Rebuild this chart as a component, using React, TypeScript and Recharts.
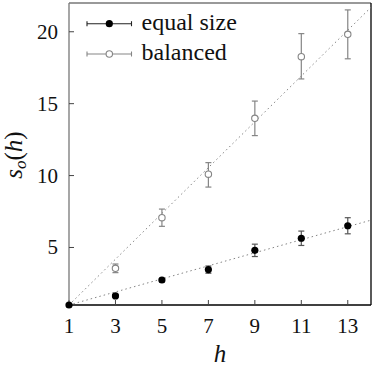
import React from 'react';
import { ComposedChart, Scatter, XAxis, YAxis, ErrorBar } from 'recharts';

// ---- data ----
const equalH = [1, 3, 5, 7, 9, 11, 13];
const equalSize = [1, 1.63, 2.74, 3.46, 4.8, 5.64, 6.51];
const equalErr = [0, 0.1, 0.12, 0.25, 0.43, 0.5, 0.56];

const balancedH = [3, 5, 7, 9, 11, 13];
const balanced = [3.55, 7.07, 10.1, 13.98, 18.27, 19.82];
const balancedErr: [number, number][] = [
  [0.3, 0.3],
  [0.6, 0.6],
  [0.9, 0.8],
  [1.2, 1.2],
  [1.55, 1.6],
  [1.7, 1.7],
];

const fitH = [1, 14];
const fitEqual = [1, 6.9];
const fitBalanced = [1, 21.7];

const xTicks = [1, 3, 5, 7, 9, 11, 13];
const yTicks = [5, 10, 15, 20];
const seriesNames = ['equal size', 'balanced'];

// ---- derived tables ----
const equalData = equalH.map((x, i) => ({ x, y: equalSize[i], err: equalErr[i] }));
const balancedData = balancedH.map((x, i) => ({ x, y: balanced[i], err: balancedErr[i] }));
const fitEqualData = fitH.map((x, i) => ({ x, y: fitEqual[i] }));
const fitBalancedData = fitH.map((x, i) => ({ x, y: fitBalanced[i] }));

const FONT = 'serif';
const GRAY = '#858585';
const DARK = '#111';

const FilledDot = (p: any) => <circle cx={p.cx} cy={p.cy} r={3.6} fill="#000" />;
const OpenDot = (p: any) => (
  <circle cx={p.cx} cy={p.cy} r={3.2} fill="#fff" stroke={GRAY} strokeWidth={1.1} />
);
const NoDot = () => <g />;
const EmptyTick = () => <g />;

const XTick = (p: any) => (
  <text x={p.x} y={p.y} dy={14} textAnchor="middle" fill={DARK} style={{ fontFamily: FONT, fontSize: 21 }}>
    {p.payload.value}
  </text>
);
const YTick = (p: any) => (
  <text x={p.x} y={p.y} dy={7} textAnchor="end" fill={DARK} style={{ fontFamily: FONT, fontSize: 21 }}>
    {p.payload.value}
  </text>
);

export default function App() {
  const legendRows = [
    { name: seriesNames[0], y: 23.7, color: '#222', filled: true },
    { name: seriesNames[1], y: 54, color: GRAY, filled: false },
  ];
  return (
    <div style={{ position: 'absolute', left: 0, top: 0, width: 374, height: 368, background: '#fff' }}>
      <ComposedChart width={374} height={368} margin={{ top: 0, right: 0, bottom: 0, left: 0 }}>
        <XAxis
          xAxisId="b"
          orientation="bottom"
          type="number"
          dataKey="x"
          domain={[1, 14]}
          ticks={xTicks}
          height={63}
          tickSize={-5}
          tickMargin={19}
          axisLine={{ stroke: '#000', strokeWidth: 1.3 }}
          tickLine={{ stroke: '#444' }}
          tick={XTick}
        />
        <XAxis
          xAxisId="t"
          orientation="top"
          type="number"
          dataKey="x"
          domain={[1, 14]}
          ticks={xTicks}
          height={3}
          tickSize={-5}
          axisLine={{ stroke: '#777', strokeWidth: 1.3 }}
          tickLine={{ stroke: '#444' }}
          tick={EmptyTick}
        />
        <YAxis
          yAxisId="l"
          orientation="left"
          type="number"
          domain={[1, 22]}
          ticks={yTicks}
          width={69}
          tickSize={-5}
          tickMargin={16}
          axisLine={{ stroke: '#777', strokeWidth: 1.3 }}
          tickLine={{ stroke: '#444' }}
          tick={YTick}
        />
        <YAxis
          yAxisId="r"
          orientation="right"
          type="number"
          domain={[1, 22]}
          ticks={yTicks}
          width={3}
          tickSize={-5}
          axisLine={{ stroke: '#000', strokeWidth: 1.3 }}
          tickLine={{ stroke: '#444' }}
          tick={EmptyTick}
        />
        <Scatter
          xAxisId="b"
          yAxisId="l"
          data={fitBalancedData}
          dataKey="y"
          line={{ stroke: GRAY, strokeWidth: 1, strokeDasharray: '1.5 3' }}
          shape={NoDot}
          isAnimationActive={false}
        />
        <Scatter
          xAxisId="b"
          yAxisId="l"
          data={fitEqualData}
          dataKey="y"
          line={{ stroke: GRAY, strokeWidth: 1, strokeDasharray: '1.5 3' }}
          shape={NoDot}
          isAnimationActive={false}
        />
        <Scatter xAxisId="b" yAxisId="l" data={balancedData} dataKey="y" shape={OpenDot} isAnimationActive={false}>
          <ErrorBar dataKey="err" direction="y" width={3} stroke={GRAY} strokeWidth={1.2} isAnimationActive={false} />
        </Scatter>
        <Scatter xAxisId="b" yAxisId="l" data={equalData} dataKey="y" shape={FilledDot} isAnimationActive={false}>
          <ErrorBar dataKey="err" direction="y" width={3} stroke="#555" strokeWidth={1.2} isAnimationActive={false} />
        </Scatter>
      </ComposedChart>
      <svg width={374} height={368} style={{ position: 'absolute', left: 0, top: 0, pointerEvents: 'none' }}>
        {legendRows.map((r) => (
          <g key={r.name}>
            <line x1={87} x2={131.5} y1={r.y} y2={r.y} stroke={r.color} strokeWidth={1.1} />
            <line x1={87} x2={87} y1={r.y - 2.5} y2={r.y + 2.5} stroke={r.color} strokeWidth={1.1} />
            <line x1={131.5} x2={131.5} y1={r.y - 2.5} y2={r.y + 2.5} stroke={r.color} strokeWidth={1.1} />
            {r.filled ? (
              <circle cx={109.3} cy={r.y} r={3.6} fill="#000" />
            ) : (
              <circle cx={109.3} cy={r.y} r={3.2} fill="#fff" stroke={GRAY} strokeWidth={1.1} />
            )}
            <text x={141.5} y={r.y + 5.8} fill={DARK} style={{ fontFamily: FONT, fontSize: 24 }}>
              {r.name}
            </text>
          </g>
        ))}
        <text
          transform="translate(22,155) rotate(-90)"
          textAnchor="middle"
          fill={DARK}
          style={{ fontFamily: FONT, fontSize: 25 }}
        >
          <tspan style={{ fontStyle: 'italic' }}>s</tspan>
          <tspan style={{ fontStyle: 'italic', fontSize: 17 }} dy={4}>o</tspan>
          <tspan dy={-4}>(</tspan>
          <tspan style={{ fontStyle: 'italic' }}>h</tspan>
          <tspan>)</tspan>
        </text>
        <text x={220} y={362} textAnchor="middle" fill={DARK} style={{ fontFamily: FONT, fontStyle: 'italic', fontSize: 25 }}>
          h
        </text>
      </svg>
    </div>
  );
}
